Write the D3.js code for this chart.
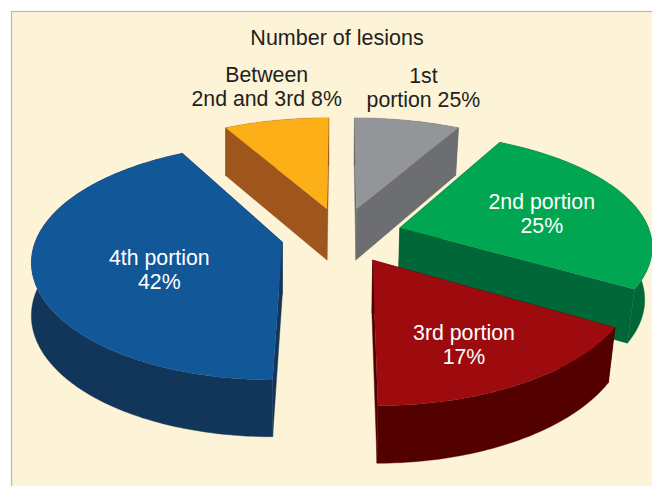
<!DOCTYPE html>
<html><head><meta charset="utf-8">
<script src="https://cdn.jsdelivr.net/npm/d3@7"></script>
<style>html,body{margin:0;padding:0;background:#fff}svg{display:block}text{font-family:"Liberation Sans",Arial,sans-serif}</style>
</head><body><svg id="c" width="652" height="486"></svg>
<script>
const title = "Number of lesions";
const categories = ["1st portion","2nd portion","3rd portion","4th portion","Between 2nd and 3rd"];
// share of the circle as drawn (the picture's slices)
const drawnShares = [8,25.5,16.5,42,8];
// the percentages printed on the chart
const printedPercents = [25,25,17,42,8];
const labelLines = [["1st","portion 25%"],["2nd portion","25%"],["3rd portion","17%"],["4th portion","42%"],["Between","2nd and 3rd 8%"]];
const topColors = ["#939598","#00a651","#9e0b0f","#125797","#fcaf17"];
const wallColors = ["#6d6e71","#006838","#520000","#12365a","#9e561c"];
const labelColors = ["#231f20","#fff","#fff","#fff","#231f20"];
const labelPolar = [[1.44,13.8],[.6,78],[.7,153.5],[.525,244],[1.44,347.5]];

const W=652,H=486, cx=341.6, cy=235, Rx=248, Ry=113.4, kYx=.14, kYy=.16, kX=.008, explode=.245;
const depth=52, depthK=.08, taper=.024, vanishX=340;
const svg=d3.select("#c");
svg.append("rect").attr("width",W).attr("height",H).attr("fill","#fff");
svg.append("rect").attr("x",11.5).attr("y",11.5).attr("width",W).attr("height",H)
  .attr("fill","#fdf3d6").attr("stroke","#b8b8b8").attr("stroke-width",1.2);

const sx=d3.scaleLinear().domain([-1,1]).range([cx-Rx,cx+Rx]);
const sy=d3.scaleLinear().domain([-1,1]).range([cy+Ry,cy-Ry]);
const project=(X,Y)=>[sx(X/(1+kYx*Y-kX*X)),sy(Y/(1+kYy*Y))];
const extrude=(X,Y)=>{const [x,y]=project(X,Y);return [x+Math.min(0,vanishX-x)*taper,y+depth/(1+depthK*Y)];};
const arcs=d3.pie().sort(null).value(d=>d)(drawnShares);
const line=d3.line();
const polar=(a,r)=>[r*Math.sin(a),r*Math.cos(a)];

const slices=arcs.map((a,i)=>{
  const mid=(a.startAngle+a.endAngle)/2;
  const [ax,ay]=polar(mid,explode);
  const n=Math.ceil((a.endAngle-a.startAngle)*60);
  const rim=d3.range(n+1).map(j=>{const t=a.startAngle+(a.endAngle-a.startAngle)*j/n;const [p,q]=polar(t,1);return [ax+p,ay+q];});
  return {i,ax,ay,rim};
});
const order=[4,0,1,3,2];
order.forEach(i=>{
  const s=slices[i];const g=svg.append("g");
  const apex=[s.ax,s.ay], first=s.rim[0], last=s.rim[s.rim.length-1];
  const walls=[
    [project(...apex),project(...first),extrude(...first),extrude(...apex)],
    [project(...apex),project(...last),extrude(...last),extrude(...apex)],
    [...s.rim.map(p=>project(...p)),...s.rim.slice().reverse().map(p=>extrude(...p))]
  ];
  walls.forEach(w=>g.append("path").attr("d",line(w)+"Z").attr("fill",wallColors[i]).attr("stroke",wallColors[i]).attr("stroke-width",.4));
  g.append("path").attr("d",line([apex,...s.rim].map(p=>project(...p)))+"Z").attr("fill",topColors[i]);
});

svg.append("text").attr("x",337).attr("y",45).attr("text-anchor","middle").attr("font-size",21.5).attr("fill","#231f20").text(title);
slices.forEach((s,i)=>{
  const [r,deg]=labelPolar[i];
  const [p,q]=polar(deg*Math.PI/180,r);
  const [x,y]=project(s.ax+p,s.ay+q);
  const t=svg.append("text").attr("text-anchor","middle").attr("font-size",21.3).attr("fill",labelColors[i]);
  labelLines[i].forEach((l,j)=>t.append("tspan").attr("x",x).attr("y",y-5+j*24).text(l));
});
</script></body></html>
